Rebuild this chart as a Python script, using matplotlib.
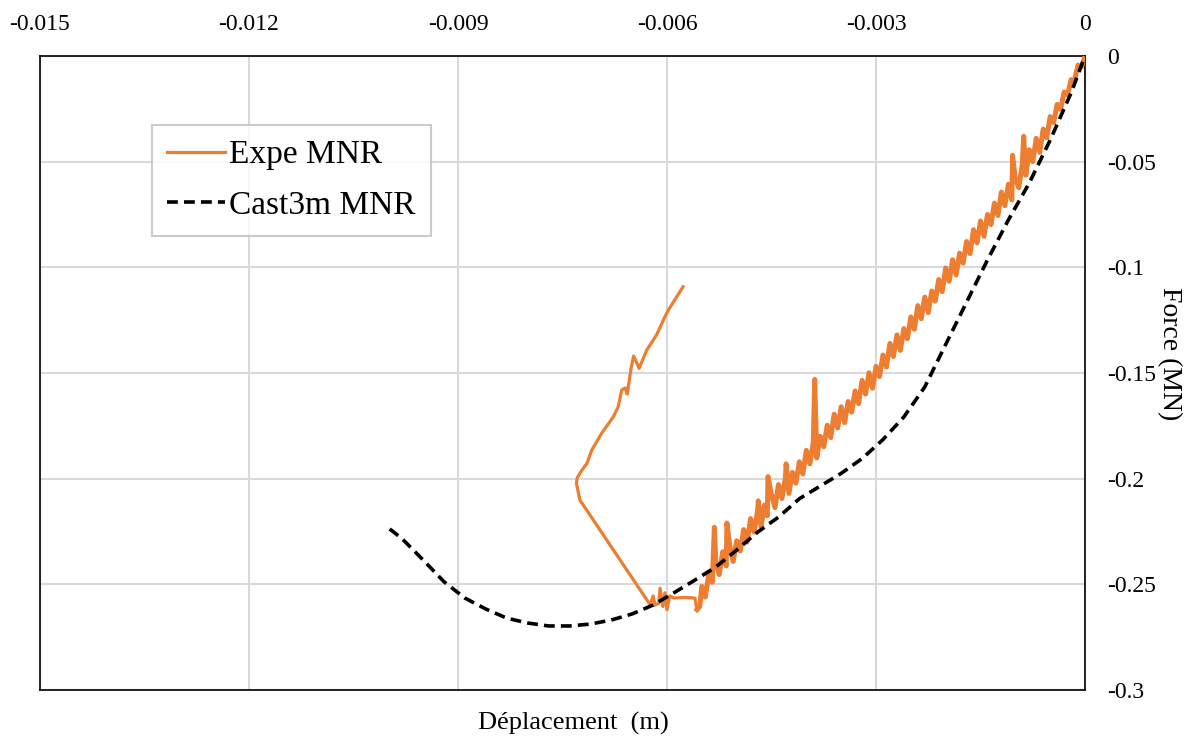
import numpy as np
import matplotlib
matplotlib.use("Agg")
from matplotlib import pyplot as plt

plt.rcParams['font.family'] = ['Liberation Serif', 'DejaVu Serif']

# Cast3m MNR (simulation)
cast_x = [-0.00998, -0.0098, -0.0095, -0.0092, -0.0089, -0.0086, -0.0083, -0.008, -0.0077,
          -0.0074, -0.0071, -0.0068, -0.0065, -0.0062, -0.0059, -0.0056, -0.0053, -0.005,
          -0.0047, -0.0044, -0.0041, -0.0038, -0.0035, -0.0032, -0.0029, -0.0026, -0.0023,
          -0.002, -0.0017, -0.0014, -0.0011, -0.0008, -0.0005, -0.0002, 0.0]
cast_y = [-0.2238, -0.2285, -0.2385, -0.2488, -0.2565, -0.2617, -0.266, -0.2683, -0.2697,
          -0.2697, -0.2688, -0.2669, -0.264, -0.2598, -0.254, -0.248, -0.2418, -0.2338,
          -0.2253, -0.2182, -0.2095, -0.2035, -0.1975, -0.1905, -0.1815, -0.1708, -0.1566,
          -0.1365, -0.1165, -0.0965, -0.0776, -0.0601, -0.0398, -0.0175, 0.0]

# Expe MNR - loading part (noisy band)
load_x = [0, -0.00005, -0.0001, -0.00015, -0.0002, -0.00025, -0.0003, -0.00035, -0.0004,
          -0.00045, -0.0005, -0.00055, -0.0006, -0.00065, -0.0007, -0.00075, -0.0008,
          -0.00085, -0.00088, -0.0009, -0.00095, -0.001, -0.00104, -0.00105, -0.0011,
          -0.00115, -0.0012, -0.00125, -0.0013, -0.00135, -0.0014, -0.00145, -0.0015,
          -0.00155, -0.0016, -0.00165, -0.0017, -0.00175, -0.0018, -0.00185, -0.0019,
          -0.00195, -0.002, -0.00205, -0.0021, -0.00215, -0.0022, -0.00225, -0.0023,
          -0.00235, -0.0024, -0.00245, -0.0025, -0.00255, -0.0026, -0.00265, -0.0027,
          -0.00275, -0.0028, -0.00285, -0.0029, -0.00295, -0.003, -0.00305, -0.0031,
          -0.00315, -0.0032, -0.00325, -0.0033, -0.00335, -0.0034, -0.00345, -0.0035,
          -0.00355, -0.0036, -0.00365, -0.0037, -0.00375, -0.0038, -0.00385, -0.00388,
          -0.0039, -0.00395, -0.004, -0.00405, -0.0041, -0.00415, -0.0042, -0.00425,
          -0.00429, -0.0043, -0.00435, -0.0044, -0.00445, -0.0045, -0.00455, -0.00456,
          -0.0046, -0.00465, -0.00469, -0.0047, -0.00475, -0.0048, -0.00485, -0.0049,
          -0.00495, -0.005, -0.00505, -0.0051, -0.00514, -0.00515, -0.0052, -0.00525,
          -0.0053, -0.00532, -0.00535, -0.0054, -0.00545, -0.0055, -0.00553, -0.00557]
load_y = [0, -0.0052, -0.0043, -0.0115, -0.0112, -0.0183, -0.017, -0.0252, -0.0229,
          -0.0315, -0.0287, -0.0387, -0.0346, -0.0456, -0.039, -0.05, -0.0444,
          -0.0564, -0.038, -0.0513, -0.0623, -0.058, -0.047, -0.0681, -0.0607,
          -0.0708, -0.0644, -0.0755, -0.0696, -0.0798, -0.075, -0.0853, -0.0781,
          -0.0884, -0.0822, -0.0935, -0.0878, -0.098, -0.0933, -0.1036, -0.0964,
          -0.1066, -0.1003, -0.1115, -0.1058, -0.116, -0.1112, -0.1214, -0.1141,
          -0.1243, -0.1181, -0.1293, -0.1235, -0.1338, -0.129, -0.1393, -0.132,
          -0.1422, -0.136, -0.1472, -0.1415, -0.1517, -0.1469, -0.1572, -0.1499,
          -0.16, -0.1535, -0.1645, -0.1585, -0.1685, -0.1635, -0.1735, -0.166,
          -0.176, -0.1695, -0.1806, -0.1747, -0.1849, -0.18, -0.1902, -0.153,
          -0.1828, -0.193, -0.1866, -0.1978, -0.192, -0.2021, -0.197, -0.207,
          -0.193, -0.1994, -0.2094, -0.2028, -0.2137, -0.2077, -0.199, -0.2176,
          -0.2125, -0.2226, -0.2105, -0.2152, -0.2253, -0.2189, -0.23, -0.2241,
          -0.2342, -0.2294, -0.2392, -0.2315, -0.221, -0.2413, -0.2346, -0.2454,
          -0.2392, -0.223, -0.249, -0.245, -0.256, -0.251, -0.2605, -0.262]

# Expe MNR - post peak / unloading part
unload_x = [-0.00557, -0.0056, -0.00575, -0.0059, -0.00596, -0.006, -0.00603, -0.00606, -0.0061,
            -0.00612, -0.00617, -0.0062, -0.00624, -0.00725, -0.0073, -0.00729, -0.00722,
            -0.00715, -0.00708, -0.00694, -0.00677, -0.0067, -0.00665, -0.0066, -0.00657,
            -0.00652, -0.00648, -0.00644, -0.0064, -0.00629, -0.00615, -0.00603, -0.00598,
            -0.00586, -0.00577]
unload_y = [-0.262, -0.2565, -0.2562, -0.2565, -0.2555, -0.262, -0.254, -0.2605, -0.2518,
            -0.259, -0.2598, -0.2555, -0.2598, -0.2101, -0.2022, -0.1997, -0.1959,
            -0.1928, -0.1865, -0.1786, -0.1707, -0.166, -0.158, -0.1571, -0.160,
            -0.1486, -0.142, -0.1447, -0.1478, -0.1391, -0.132, -0.1234, -0.1202,
            -0.1139, -0.1092]

xticks = [-0.015, -0.012, -0.009, -0.006, -0.003, 0]
xlabels = ['-0.015', '-0.012', '-0.009', '-0.006', '-0.003', '0']
yticks = [0, -0.05, -0.1, -0.15, -0.2, -0.25, -0.3]
ylabels = ['0', '-0.05', '-0.1', '-0.15', '-0.2', '-0.25', '-0.3']

orange = '#ED7D31'

fig = plt.figure(figsize=(11.89, 7.38), dpi=100)
ax = fig.add_axes([40/1189, 1-690/738, 1045/1189, 634/738])

# noisy loading band drawn a bit thicker so the dense signal reads as a band
ax.plot(load_x, load_y, color=orange, lw=3.6, solid_joinstyle='round', zorder=3)
ax.plot(unload_x, unload_y, color=orange, lw=2.3, label='Expe MNR', zorder=3)
ax.plot(cast_x, cast_y, color='black', lw=2.6, dashes=(3, 1.7), label='Cast3m MNR', zorder=4)

ax.set_xlim(-0.015, 0)
ax.set_ylim(-0.3, 0)
ax.set_xticks(xticks)
ax.set_xticklabels(xlabels)
ax.set_yticks(yticks)
ax.set_yticklabels(ylabels)
ax.xaxis.tick_top()
ax.yaxis.tick_right()
ax.tick_params(axis='x', length=0, pad=15, labelsize=17)
ax.tick_params(axis='y', length=0, pad=16, labelsize=17)
for lab in ax.get_yticklabels():
    lab.set_horizontalalignment('left')

ax.grid(True, color='#d9d9d9', lw=1.5)
ax.set_axisbelow(True)
for s in ax.spines.values():
    s.set_color('black')
    s.set_linewidth(1.2)

ax.set_xlabel('Déplacement  (m)', fontsize=19)
ax.xaxis.set_label_position('bottom')
ax.xaxis.set_label_coords(0.51, -0.035)
ax.set_ylabel('Force (MN)', fontsize=20, rotation=-90)
ax.yaxis.set_label_position('right')
ax.yaxis.set_label_coords(1.081, 0.53)
ax.yaxis.label.set_verticalalignment('center')

leg = ax.legend(loc='upper left', bbox_to_anchor=(112/1045, 1-69/634), fontsize=24,
                frameon=True, fancybox=False, handlelength=1.75, handletextpad=0.12,
                borderpad=0.45, labelspacing=0.6, borderaxespad=0)
leg.get_frame().set_edgecolor('#bfbfbf')
leg.get_frame().set_linewidth(1.5)

plt.savefig('out.png', dpi=100)
